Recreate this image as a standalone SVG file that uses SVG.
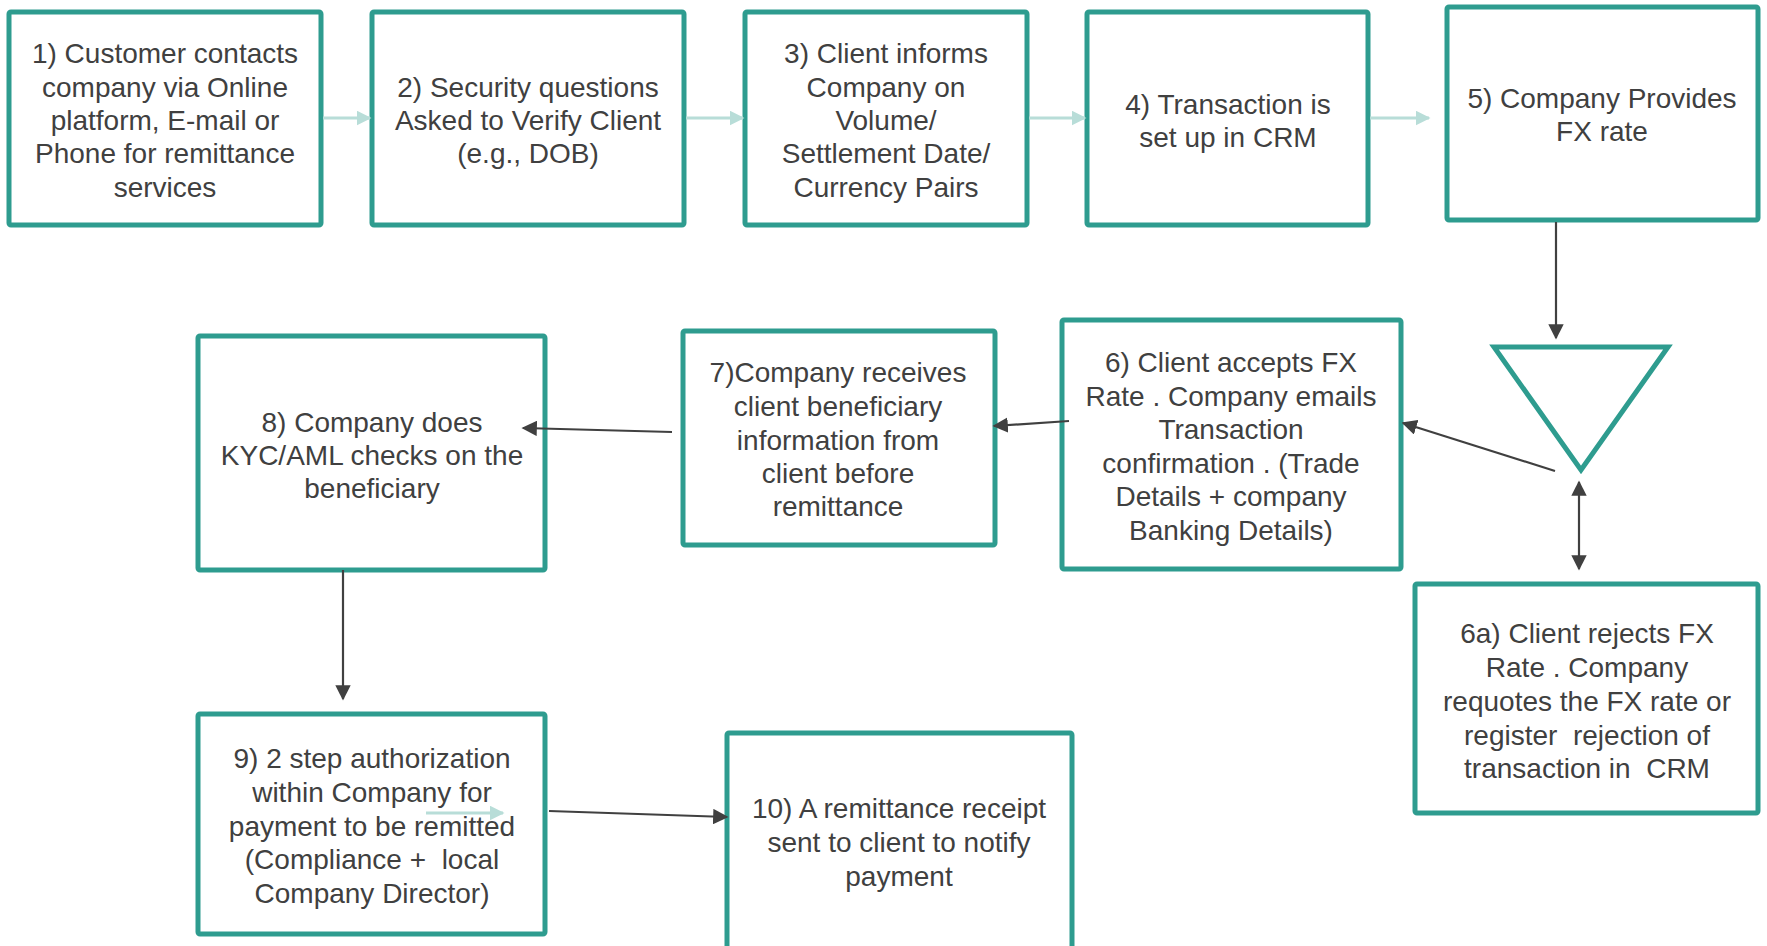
<svg xmlns="http://www.w3.org/2000/svg" width="1767" height="946" viewBox="0 0 1767 946">
<style>
.box{fill:#fff;stroke:#2E9C8F;stroke-width:5}
.t{font-family:"Liberation Sans",Arial,sans-serif;font-size:28px;fill:#404040;text-anchor:middle;dominant-baseline:central;white-space:pre}
.dk{stroke:#404040;stroke-width:2.2;fill:none}
.lt{stroke:#B8DDD8;stroke-width:3;fill:none}
</style>
<defs>
<marker id="ad" viewBox="0 0 10 10" refX="9" refY="5" markerWidth="7" markerHeight="7" orient="auto-start-reverse" markerUnits="strokeWidth"><path d="M0,0 L10,5 L0,10 z" fill="#404040"/></marker>
<marker id="al" viewBox="0 0 10 10" refX="9" refY="5" markerWidth="5" markerHeight="5" orient="auto" markerUnits="strokeWidth"><path d="M0,0 L10,5 L0,10 z" fill="#B8DDD8"/></marker>
</defs>
<rect width="1767" height="946" fill="#fff"/>
<g id="n1"><rect class="box" x="9" y="12" width="312" height="213" rx="2"/>
<text class="t" x="165"><tspan x="165" y="53">1) Customer contacts</tspan><tspan x="165" y="87">company via Online</tspan><tspan x="165" y="120">platform, E-mail or</tspan><tspan x="165" y="153">Phone for remittance</tspan><tspan x="165" y="187">services</tspan></text></g>
<g id="n2"><rect class="box" x="372" y="12" width="312" height="213" rx="2"/>
<text class="t"><tspan x="528" y="87">2) Security questions</tspan><tspan x="528" y="120">Asked to Verify Client</tspan><tspan x="528" y="153">(e.g., DOB)</tspan></text></g>
<g id="n3"><rect class="box" x="745" y="12" width="282" height="213" rx="2"/>
<text class="t"><tspan x="886" y="53">3) Client informs</tspan><tspan x="886" y="87">Company on</tspan><tspan x="886" y="120">Volume/</tspan><tspan x="886" y="153">Settlement Date/</tspan><tspan x="886" y="187">Currency Pairs</tspan></text></g>
<g id="n4"><rect class="box" x="1087" y="12" width="281" height="213" rx="2"/>
<text class="t"><tspan x="1228" y="104">4) Transaction is</tspan><tspan x="1228" y="137">set up in CRM</tspan></text></g>
<g id="n5"><rect class="box" x="1447" y="7" width="311" height="213" rx="2"/>
<text class="t"><tspan x="1602" y="98">5) Company Provides</tspan><tspan x="1602" y="131">FX rate</tspan></text></g>
<g id="decision"><polygon class="box" points="1494,347 1668,347 1581,470"/></g>
<g id="n6"><rect class="box" x="1062" y="320" width="339" height="249" rx="2"/>
<text class="t"><tspan x="1231" y="362">6) Client accepts FX</tspan><tspan x="1231" y="396">Rate . Company emails</tspan><tspan x="1231" y="429">Transaction</tspan><tspan x="1231" y="463">confirmation . (Trade</tspan><tspan x="1231" y="496">Details + company</tspan><tspan x="1231" y="530">Banking Details)</tspan></text></g>
<g id="n7"><rect class="box" x="683" y="331" width="312" height="214" rx="2"/>
<text class="t"><tspan x="838" y="372">7)Company receives</tspan><tspan x="838" y="406">client beneficiary</tspan><tspan x="838" y="440">information from</tspan><tspan x="838" y="473">client before</tspan><tspan x="838" y="506">remittance</tspan></text></g>
<g id="n8"><rect class="box" x="198" y="336" width="347" height="234" rx="2"/>
<text class="t"><tspan x="372" y="422">8) Company does</tspan><tspan x="372" y="455">KYC/AML checks on the</tspan><tspan x="372" y="488">beneficiary</tspan></text></g>
<g id="n9"><rect class="box" x="198" y="714" width="347" height="220" rx="2"/>
<text class="t" xml:space="preserve"><tspan x="372" y="758">9) 2 step authorization</tspan><tspan x="372" y="792">within Company for</tspan><tspan x="372" y="826">payment to be remitted</tspan><tspan x="372" y="859">(Compliance +  local</tspan><tspan x="372" y="893">Company Director)</tspan></text></g>
<g id="n10"><rect class="box" x="727" y="733" width="345" height="240" rx="2"/>
<text class="t"><tspan x="899" y="808">10) A remittance receipt</tspan><tspan x="899" y="842">sent to client to notify</tspan><tspan x="899" y="876">payment</tspan></text></g>
<g id="n6a"><rect class="box" x="1415" y="584" width="343" height="229" rx="2"/>
<text class="t" xml:space="preserve"><tspan x="1587" y="633">6a) Client rejects FX</tspan><tspan x="1587" y="667">Rate . Company</tspan><tspan x="1587" y="701">requotes the FX rate or</tspan><tspan x="1587" y="735">register  rejection of</tspan><tspan x="1587" y="768">transaction in  CRM</tspan></text></g>
<g id="connectors">
<line class="lt" x1="323" y1="118" x2="370" y2="118" marker-end="url(#al)"/>
<line class="lt" x1="686" y1="118" x2="743" y2="118" marker-end="url(#al)"/>
<line class="lt" x1="1029" y1="118" x2="1085" y2="118" marker-end="url(#al)"/>
<line class="lt" x1="1370" y1="118" x2="1429" y2="118" marker-end="url(#al)"/>
<line class="dk" x1="1556" y1="222" x2="1556" y2="338" marker-end="url(#ad)"/>
<line class="dk" x1="1555" y1="471" x2="1403" y2="423" marker-end="url(#ad)"/>
<line class="dk" x1="1579" y1="482" x2="1579" y2="569" marker-start="url(#ad)" marker-end="url(#ad)"/>
<line class="dk" x1="1069" y1="421" x2="994" y2="426" marker-end="url(#ad)"/>
<line class="dk" x1="672" y1="432" x2="523" y2="428" marker-end="url(#ad)"/>
<line class="dk" x1="343" y1="570" x2="343" y2="699" marker-end="url(#ad)"/>
<line class="dk" x1="549" y1="811" x2="727" y2="817" marker-end="url(#ad)"/>
<line class="lt" x1="426" y1="813" x2="503" y2="813" marker-end="url(#al)"/>
</g>
</svg>
